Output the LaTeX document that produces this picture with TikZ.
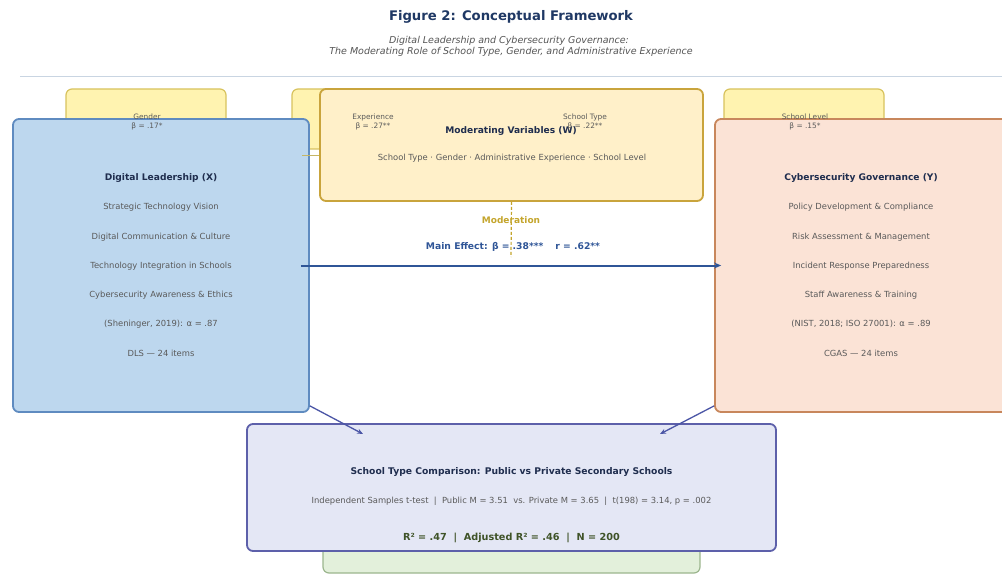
\documentclass[tikz,border=0pt]{standalone}
\usepackage{fontspec}
\setmainfont{DejaVu Sans}
\usetikzlibrary{arrows.meta}
\definecolor{titlec}{HTML}{1F3864}
\definecolor{subc}{HTML}{555555}
\definecolor{rulec}{HTML}{C9D5E2}
\definecolor{bluefill}{HTML}{BDD7EE}
\definecolor{blueline}{HTML}{5F8BC0}
\definecolor{orfill}{HTML}{FBE3D6}
\definecolor{orline}{HTML}{C8875C}
\definecolor{modfill}{HTML}{FFF0C9}
\definecolor{modline}{HTML}{C9A43C}
\definecolor{yelfill}{HTML}{FFF3B0}
\definecolor{yelline}{HTML}{D8C35E}
\definecolor{lavfill}{HTML}{E4E7F5}
\definecolor{lavline}{HTML}{5D60AA}
\definecolor{grnfill}{HTML}{E3F0DB}
\definecolor{grnline}{HTML}{9CB68E}
\definecolor{headc}{HTML}{1F2D4E}
\definecolor{itemc}{HTML}{5A5A5A}
\definecolor{goldc}{HTML}{C4A52C}
\definecolor{effc}{HTML}{2F5597}
\definecolor{rsqc}{HTML}{3F5328}
\definecolor{diagc}{HTML}{4B56A6}
\tikzset{
  box/.style={rectangle, rounded corners=6pt, line width=1.8pt, inner sep=0pt},
  smallbox/.style={box, fill=yelfill, draw=yelline, line width=1.2pt, minimum width=160pt, minimum height=60pt},
  head/.style={font=\fontsize{9.1}{11}\selectfont\bfseries, text=headc, inner sep=0pt},
  item/.style={font=\fontsize{8.4}{10}\selectfont, text=itemc, inner sep=0pt},
  modlab/.style={font=\fontsize{7.4}{9.5}\selectfont, text=itemc, align=center, inner sep=0pt},
  mainarrow/.style={draw=effc, line width=2pt, -{Stealth[length=7pt,width=6pt]}},
  diagarrow/.style={draw=diagc, line width=1.3pt, -{Stealth[length=6pt,width=5pt]}},
}
\begin{document}
\begin{tikzpicture}[x=1pt,y=-1pt]
\useasboundingbox (0,0) rectangle (1002,575);
\fill[white] (0,0) rectangle (1002,575);

% title
\node[font=\fontsize{13.2}{15}\selectfont\bfseries, text=titlec, inner sep=0pt] (title) at (511,17) {Figure 2: Conceptual Framework};
\node[font=\fontsize{9.5}{10}\selectfont\itshape, text=subc, inner sep=0pt] (sub1) at (509,41) {Digital Leadership and Cybersecurity Governance:};
\node[font=\fontsize{9.5}{10}\selectfont\itshape, text=subc, inner sep=0pt] (sub2) at (511,51.5) {The Moderating Role of School Type, Gender, and Administrative Experience};
\coordinate (rl) at (20,76);
\coordinate (rr) at (1002,76);
\draw[rulec, line width=0.8pt] (rl) -- (rr);

% small moderator boxes (behind)
\node[smallbox] (g1) at (146,119) {};
\node[smallbox] (g2) at (372,119) {};
\node[smallbox] (g3) at (584,119) {};
\node[smallbox] (g4) at (804,119) {};

% green box behind bottom
\node[box, fill=grnfill, draw=grnline, line width=1.2pt, minimum width=377pt, minimum height=56pt] (green) at (511.5,545) {};

% main boxes
\node[box, fill=bluefill, draw=blueline, minimum width=296pt, minimum height=293pt] (blue) at (161,265.5) {};
\node[box, fill=orfill, draw=orline, minimum width=296pt, minimum height=293pt] (orange) at (863,265.5) {};
\node[box, fill=modfill, draw=modline, minimum width=383pt, minimum height=112pt] (mod) at (511.5,145) {};
\node[box, fill=lavfill, draw=lavline, minimum width=529pt, minimum height=127pt] (cmp) at (511.5,487.5) {};

% blue texts
\node[head] (bh) at (161,178) {Digital Leadership (X)};
\node[item] (b1) at (161,207) {Strategic Technology Vision};
\node[item] (b2) at (161,237) {Digital Communication \& Culture};
\node[item] (b3) at (161,266) {Technology Integration in Schools};
\node[item] (b4) at (161,295) {Cybersecurity Awareness \& Ethics};
\node[item] (b5) at (161,324) {(Sheninger, 2019): α = .87};
\node[item] (b6) at (161,353) {DLS — 24 items};

% orange texts
\node[head] (oh) at (861,178) {Cybersecurity Governance (Y)};
\node[item] (o1) at (861,207) {Policy Development \& Compliance};
\node[item] (o2) at (861,237) {Risk Assessment \& Management};
\node[item] (o3) at (861,266) {Incident Response Preparedness};
\node[item] (o4) at (861,295) {Staff Awareness \& Training};
\node[item] (o5) at (861,324) {(NIST, 2018; ISO 27001): α = .89};
\node[item] (o6) at (861,353) {CGAS — 24 items};

% moderating texts
\node[head] (mh) at (511,131) {Moderating Variables (W)};
\node[item] (m1) at (512,158) {School Type · Gender · Administrative Experience · School Level};

% short link to moderating box
\draw[yelline!80!gray, line width=0.9pt] (mod.west |- 0,155) -- ([xshift=-8pt]blue.east |- 0,155);

% moderation
\coordinate (modend) at (511,257);
\draw[goldc, line width=1.2pt, dash pattern=on 3pt off 2pt] (mod.south) -- (modend);
\node[font=\fontsize{9}{11}\selectfont\bfseries, text=goldc, inner sep=0pt] (modl) at (511,220) {Moderation};
\node[font=\fontsize{9.2}{11}\selectfont\bfseries, text=effc, inner sep=0pt] (eff) at (513,247) {Main Effect: β = .38***\hspace{12pt}r = .62**};

% main arrow
\draw[mainarrow, shorten <=-9pt, shorten >=-7pt] (blue.east) -- (orange.west);

% comparison texts
\node[font=\fontsize{9.2}{11}\selectfont\bfseries, text=headc, inner sep=0pt] (ch) at (511.5,472) {School Type Comparison: Public vs Private Secondary Schools};
\node[item] (c1) at (511.5,501) {Independent Samples t-test \ | \ Public M = 3.51 \ vs. Private M = 3.65 \ | \ t(198) = 3.14, p = .002};
\node[font=\fontsize{9.7}{11}\selectfont\bfseries, text=rsqc, inner sep=0pt] (c2) at (511.5,538) {R² = .47 \ | \ Adjusted R² = .46 \ | \ N = 200};

% diagonal arrows
\coordinate (dl) at (363,434);
\coordinate (dr) at (660,434);
\draw[diagarrow] ([yshift=7pt]blue.south east) -- (dl);
\draw[diagarrow] ([yshift=7pt]orange.south west) -- (dr);

% moderator labels (on top)
\node[modlab] (l1) at (147,122) {Gender\\β = .17*};
\node[modlab] (l2) at (373,122) {Experience\\β = .27**};
\node[modlab] (l3) at (585,122) {School Type\\β = .22**};
\node[modlab] (l4) at (805,122) {School Level\\β = .15*};
\end{tikzpicture}
\end{document}
